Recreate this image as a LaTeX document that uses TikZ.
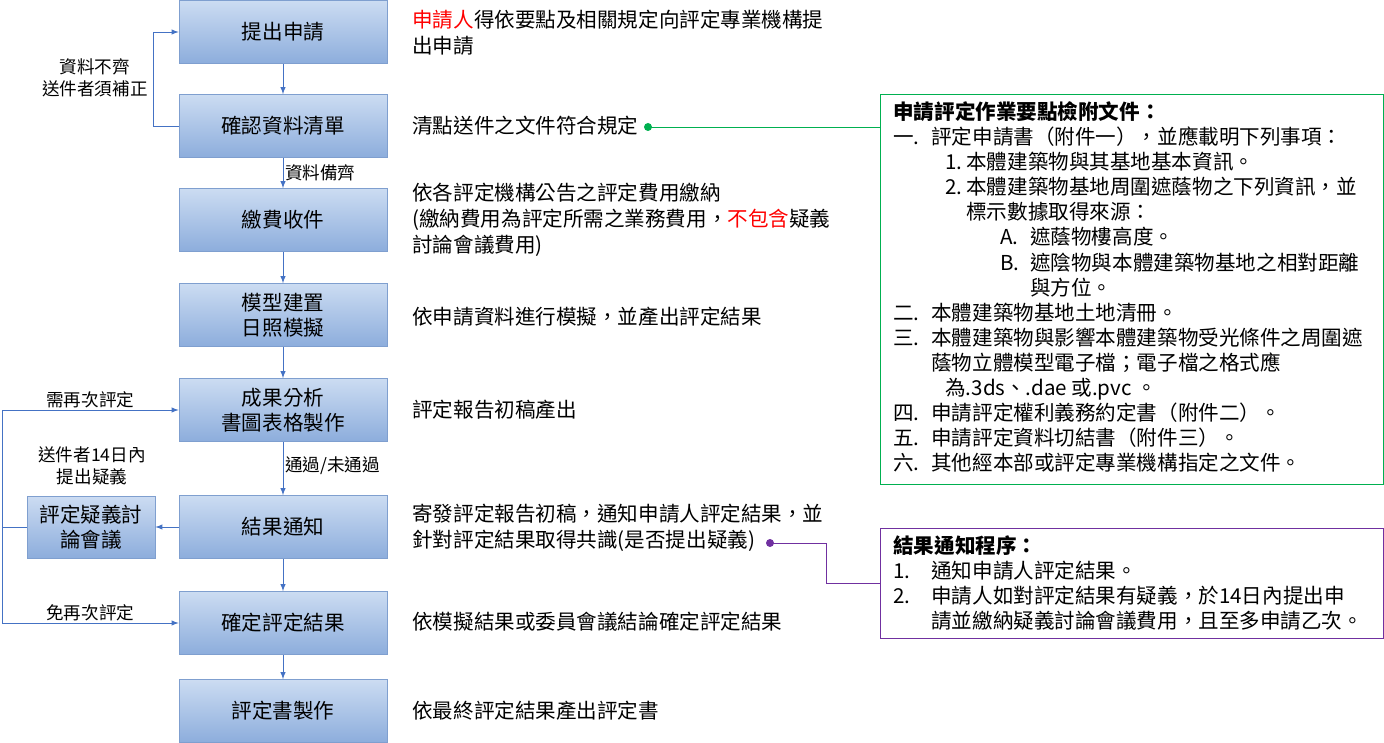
\documentclass[tikz,border=0pt]{standalone}
\usepackage{fontspec}
\setmainfont{Noto Sans CJK TC}
\usetikzlibrary{arrows}
\definecolor{boxtop}{HTML}{CCDCF2}
\definecolor{boxbot}{HTML}{8DADDC}
\definecolor{boxline}{HTML}{7F9FCF}
\definecolor{flow}{HTML}{4472C4}
\definecolor{notegreen}{HTML}{00B050}
\definecolor{notepurple}{HTML}{7030A0}
\newcommand{\itemno}[2]{\makebox[#1][l]{#2}}
\begin{document}
\begin{tikzpicture}
    [
    x=0.02cm,y=-0.02cm,
    stage/.style={draw=boxline,top color=boxtop,bottom color=boxbot,minimum width=4.16cm,minimum height=1.26cm,inner sep=0pt,font=\fontsize{11.7}{14.5}\selectfont},
    side/.style={stage,minimum width=2.56cm,minimum height=1.24cm,align=center},
    desc/.style={anchor=west,align=left,inner sep=0pt,font=\fontsize{11.7}{14.7}\selectfont},
    tag/.style={inner sep=1pt,font=\fontsize{10}{12.5}\selectfont,align=center},
    note/.style={anchor=north west,align=left,inner sep=0pt,font=\fontsize{11.7}{14.3}\selectfont},
    flowline/.style={draw=flow,-latex}
    ]
    \useasboundingbox (0,0) rectangle (1384,743);
    % stages
    \node (apply) at (283,32) [stage] {提出申請};
    \node (check) at (283,126) [stage] {確認資料清單};
    \node (pay) at (283,220) [stage] {繳費收件};
    \node (model) at (283,315) [stage,align=center] {模型建置\\日照模擬};
    \node (result) at (283,410) [stage,align=center] {成果分析\\書圖表格製作};
    \node (notify) at (283,527) [stage] {結果通知};
    \node (confirm) at (283,623) [stage] {確定評定結果};
    \node (issue) at (283,711) [stage] {評定書製作};
    \node (meeting) at (91,527) [side] {評定疑義討\\論會議};
    \draw [flowline] (apply) to (check);
    \draw [flowline] (check) to node[tag,right] {資料備齊} (pay);
    \draw [flowline] (pay) to (model);
    \draw [flowline] (model) to (result);
    \draw [flowline] (result) to node[tag,right,pos=0.45] {通過/未通過} (notify);
    \draw [flowline] (notify) to (confirm);
    \draw [flowline] (confirm) to (issue);
    \draw [flowline] (notify.west) to (meeting.east);
    \draw [flowline] (check.west) -- (153,126) -- (153,32) -- (apply.west);
    \node [tag] at (95,78) {資料不齊\\送件者須補正};
    \draw [flowline] (meeting.west) -- (2,527) -- (2,410) -- node[tag,above,pos=0.5] {需再次評定} (result.west);
    \draw [flowline] (2,527) -- (2,623) -- node[tag,above,pos=0.5] {免再次評定} (confirm.west);
    \node [tag] at (92,466) {送件者14日內\\提出疑義};
    % descriptions
    \node (d1) at (412,33) [desc] {\textcolor{red}{申請人}得依要點及相關規定向評定專業機構提\\出申請};
    \node (d2) at (412,126) [desc] {清點送件之文件符合規定};
    \node (d3) at (412,220) [desc] {依各評定機構公告之評定費用繳納\\(繳納費用為評定所需之業務費用，\textcolor{red}{不包含}疑義\\討論會議費用)};
    \node (d4) at (412,317) [desc] {依申請資料進行模擬，並產出評定結果};
    \node (d5) at (412,410) [desc] {評定報告初稿產出};
    \node (d6) at (412,528) [desc] {寄發評定報告初稿，通知申請人評定結果，並\\針對評定結果取得共識(是否提出疑義)};
    \node (d7) at (412,622) [desc] {依模擬結果或委員會議結論確定評定結果};
    \node (d8) at (412,711) [desc] {依最終評定結果產出評定書};
    % notes
    \node (docs) at (880,94) [draw=notegreen,thick,minimum width=10.06cm,minimum height=7.8cm,anchor=north west] {};
    \node at (893,101) [note] {\textbf{申請評定作業要點檢附文件：}\\
      \itemno{0.76cm}{一.}評定申請書（附件一），並應載明下列事項：\\
      \hspace*{1.04cm}\itemno{0.42cm}{1.}本體建築物與其基地基本資訊。\\
      \hspace*{1.04cm}\itemno{0.42cm}{2.}本體建築物基地周圍遮蔭物之下列資訊，並\\
      \hspace*{1.46cm}標示數據取得來源：\\
      \hspace*{2.14cm}\itemno{0.6cm}{A.}遮蔭物樓高度。\\
      \hspace*{2.14cm}\itemno{0.6cm}{B.}遮陰物與本體建築物基地之相對距離\\
      \hspace*{2.74cm}與方位。\\
      \itemno{0.76cm}{二.}本體建築物基地土地清冊。\\
      \itemno{0.76cm}{三.}本體建築物與影響本體建築物受光條件之周圍遮\\
      \hspace*{0.76cm}蔭物立體模型電子檔；電子檔之格式應\\
      \hspace*{1.04cm}為.3ds、.dae 或.pvc 。\\
      \itemno{0.76cm}{四.}申請評定權利義務約定書（附件二）。\\
      \itemno{0.76cm}{五.}申請評定資料切結書（附件三）。\\
      \itemno{0.76cm}{六.}其他經本部或評定專業機構指定之文件。};
    \node (steps) at (880,528) [draw=notepurple,thick,minimum width=10.06cm,minimum height=2.2cm,anchor=north west] {};
    \node at (893,535) [note] {\textbf{結果通知程序：}\\
      \itemno{0.76cm}{1.}通知申請人評定結果。\\
      \itemno{0.76cm}{2.}申請人如對評定結果有疑義，於14日內提出申\\
      \hspace*{0.76cm}請並繳納疑義討論會議費用，且至多申請乙次。};
    \coordinate (gdot) at (648,127);
    \coordinate (pdot) at (770,543);
    \fill [notegreen] (gdot) circle (4);
    \fill [notepurple] (pdot) circle (4);
    \draw [notegreen] (gdot) -- (docs.west |- gdot);
    \draw [notepurple] (pdot) -- (826,543) -- (826,583) -- (steps.west |- 0,583);
  \end{tikzpicture}
\end{document}
